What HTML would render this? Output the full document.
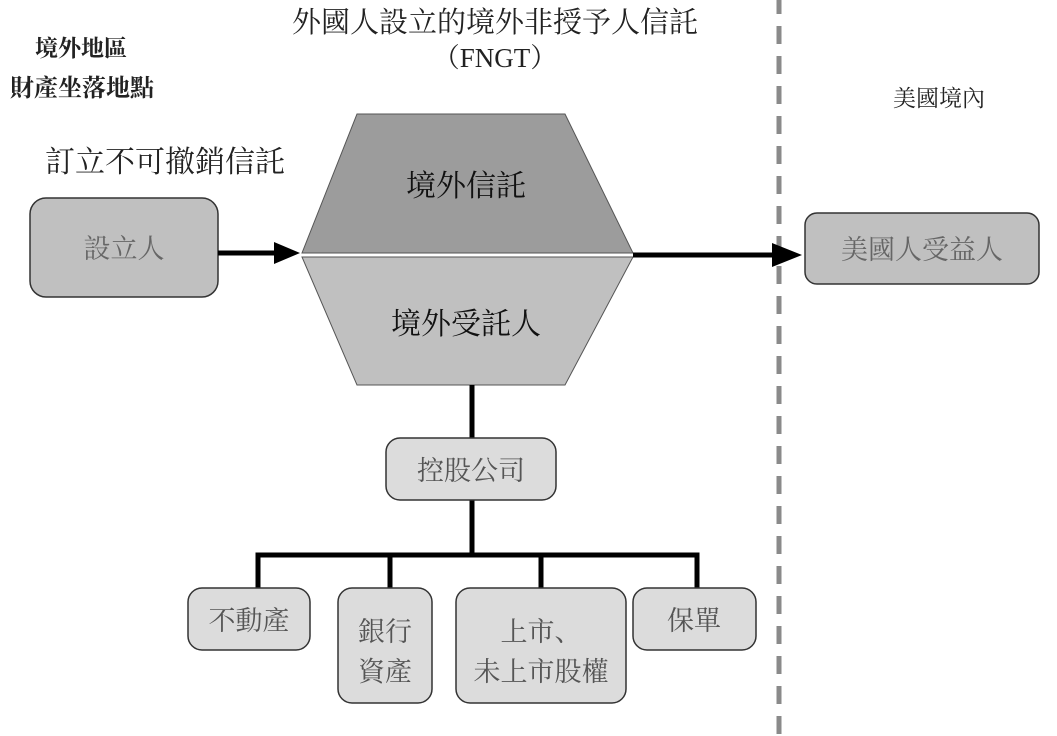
<!DOCTYPE html>
<html><head><meta charset="utf-8"><style>
body{margin:0;background:#fff}
svg{display:block}
text{font-family:"Liberation Serif","Noto Serif CJK SC","Noto Sans CJK TC",serif}
</style></head><body>
<svg width="1057" height="736" viewBox="0 0 1057 736">
<line x1="779" y1="0" x2="779" y2="736" stroke="#8a8a8a" stroke-width="5" stroke-dasharray="18 12" stroke-dashoffset="4"/>
<text x="495" y="32" font-size="29" text-anchor="middle" fill="#222">外國人設立的境外非授予人信託</text>
<text x="495" y="67" font-size="27" text-anchor="middle" fill="#222">（FNGT）</text>
<text x="35" y="56" font-size="23" fill="#222" font-weight="bold">境外地區</text>
<text x="10" y="96" font-size="24" fill="#222" font-weight="bold">財產坐落地點</text>
<text x="893" y="106" font-size="23" fill="#222">美國境內</text>
<text x="45" y="172" font-size="30" fill="#222">訂立不可撤銷信託</text>
<rect x="30" y="198" width="188" height="99" rx="16" fill="#c0c0c0" stroke="#333" stroke-width="1.5"/>
<text x="124" y="258" font-size="27" text-anchor="middle" fill="#666">設立人</text>
<line x1="218" y1="253" x2="282" y2="253" stroke="#000" stroke-width="5"/>
<polygon points="300,253 274,242 274,264" fill="#000"/>
<polygon points="357,114 565,114 633,253 302,253" fill="#9c9c9c" stroke="#555" stroke-width="1"/>
<polygon points="302,257 633,257 565,385 357,385" fill="#c0c0c0" stroke="#555" stroke-width="1"/>
<line x1="302" y1="255" x2="633" y2="255" stroke="#fff" stroke-width="3"/>
<text x="466" y="196" font-size="30" text-anchor="middle" fill="#111">境外信託</text>
<text x="466" y="334" font-size="30" text-anchor="middle" fill="#111">境外受託人</text>
<line x1="633" y1="255" x2="782" y2="255" stroke="#000" stroke-width="5"/>
<polygon points="802,255 772,243 772,267" fill="#000"/>
<rect x="805" y="213" width="234" height="71" rx="12" fill="#c0c0c0" stroke="#333" stroke-width="1.5"/>
<text x="922" y="259" font-size="27" text-anchor="middle" fill="#666">美國人受益人</text>
<g stroke="#000" stroke-width="5" fill="none">
<line x1="472" y1="385" x2="472" y2="438"/>
<line x1="472" y1="500" x2="472" y2="555"/>
<polyline points="258,590 258,555 697,555 697,590"/>
<line x1="390" y1="555" x2="390" y2="590"/>
<line x1="541" y1="555" x2="541" y2="590"/>
</g>
<g fill="#dcdcdc" stroke="#333" stroke-width="1.5">
<rect x="386" y="438" width="170" height="62" rx="14"/>
<rect x="188" y="588" width="122" height="62" rx="14"/>
<rect x="338" y="588" width="94" height="115" rx="14"/>
<rect x="456" y="588" width="170" height="115" rx="14"/>
<rect x="633" y="588" width="123" height="62" rx="14"/>
</g>
<g font-size="27" text-anchor="middle" fill="#555">
<text x="471" y="480">控股公司</text>
<text x="249" y="630">不動產</text>
<text x="385" y="641">銀行</text>
<text x="385" y="681">資產</text>
<text x="541" y="641">上市、</text>
<text x="541" y="681">未上市股權</text>
<text x="694" y="630">保單</text>
</g>
</svg>
</body></html>
